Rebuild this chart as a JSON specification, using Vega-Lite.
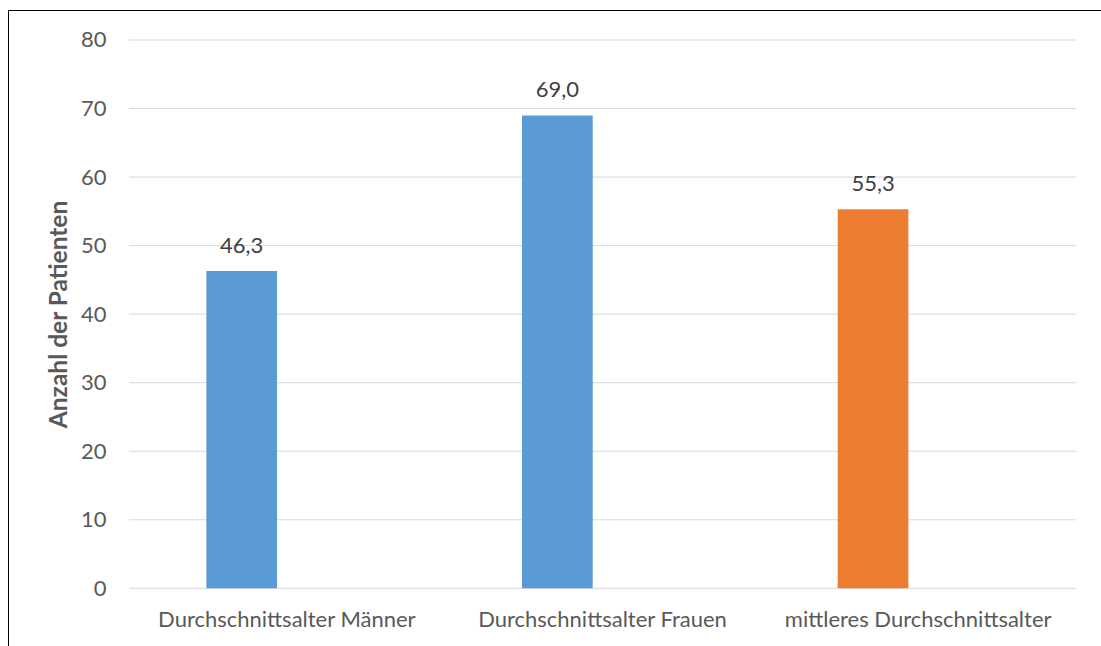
{
  "$schema": "https://vega.github.io/schema/vega-lite/v6.json",
  "width": 1093,
  "height": 636,
  "autosize": {"type": "none"},
  "padding": {"left": 8, "top": 10, "right": 0, "bottom": 0},
  "background": "#ffffff",
  "config": {
    "view": {"stroke": "transparent", "strokeWidth": 0},
    "font": "Lato",
    "locale": {
      "number": {"decimal": ",", "thousands": ".", "grouping": [3], "currency": ["", " €"]}
    },
    "axisY": {
      "domain": true,
      "domainColor": "#000000",
      "domainWidth": 1,
      "ticks": false,
      "tickSize": 0,
      "grid": false,
      "labelPadding": -98,
      "labelAlign": "right",
      "labelFontSize": 22,
      "labelColor": "#595959",
      "titleFontSize": 24.5,
      "titleFontWeight": "bold",
      "titleColor": "#595959",
      "titleX": 51,
      "titleY": 304,
      "titleAngle": 270,
      "titleAlign": "center",
      "titleBaseline": "middle"
    },
    "axisX": {
      "domain": true,
      "domainColor": "#000000",
      "domainWidth": 1,
      "ticks": false,
      "tickSize": 0,
      "grid": false,
      "labelPadding": -616,
      "labelBaseline": "alphabetic",
      "labelAngle": 0,
      "labelLimit": 0,
      "labelFontSize": 22,
      "labelColor": "#595959"
    }
  },
  "datasets": {
    "alter": [
      {"kategorie": "Durchschnittsalter Männer", "wert": 46.3, "gruppe": "Geschlecht", "serie": "A"},
      {"kategorie": "Durchschnittsalter Frauen", "wert": 69.0, "gruppe": "Geschlecht", "serie": "A"},
      {"kategorie": "mittleres Durchschnittsalter", "wert": 55.3, "gruppe": "Gesamt", "serie": "A"}
    ],
    "raster": [
      {"v": 0}, {"v": 10}, {"v": 20}, {"v": 30}, {"v": 40},
      {"v": 50}, {"v": 60}, {"v": 70}, {"v": 80}
    ]
  },
  "layer": [
    {
      "data": {"name": "raster"},
      "mark": {"type": "rule", "color": "#D9D9D9", "strokeWidth": 1},
      "encoding": {
        "y": {
          "field": "v",
          "type": "quantitative",
          "title": "Anzahl der Patienten",
          "scale": {"domain": [-8.418, 84.377], "nice": false, "zero": false},
          "axis": {"orient": "left", "values": [0, 10, 20, 30, 40, 50, 60, 70, 80]}
        },
        "x": {
          "datum": "Durchschnittsalter Männer",
          "type": "nominal",
          "bandPosition": 0,
          "title": null,
          "scale": {
            "domain": ["Durchschnittsalter Männer", "Durchschnittsalter Frauen", "mittleres Durchschnittsalter"],
            "paddingInner": 0,
            "paddingOuter": 0.23125,
            "align": 0.8288
          },
          "axis": {"orient": "top"}
        },
        "x2": {"datum": "mittleres Durchschnittsalter", "bandPosition": 1}
      }
    },
    {
      "data": {"name": "alter"},
      "mark": {"type": "bar"},
      "encoding": {
        "x": {"field": "kategorie", "type": "nominal", "title": null, "axis": {"orient": "top"}},
        "xOffset": {
          "field": "serie",
          "type": "nominal",
          "scale": {"domain": ["A", "B"], "paddingInner": 0.5, "paddingOuter": 0.366, "align": 0.747}
        },
        "y": {
          "field": "wert",
          "type": "quantitative",
          "title": "Anzahl der Patienten",
          "axis": {"orient": "left", "values": [0, 10, 20, 30, 40, 50, 60, 70, 80]}
        },
        "y2": {"datum": 0},
        "color": {
          "field": "gruppe",
          "type": "nominal",
          "scale": {"domain": ["Geschlecht", "Gesamt"], "range": ["#5B9BD5", "#ED7D31"]},
          "legend": null
        }
      }
    },
    {
      "data": {"name": "alter"},
      "mark": {"type": "text", "fontSize": 22, "color": "#404040", "baseline": "middle", "align": "center", "dy": -25},
      "encoding": {
        "x": {"field": "kategorie", "type": "nominal", "title": null, "axis": {"orient": "top"}},
        "xOffset": {"field": "serie", "type": "nominal"},
        "y": {
          "field": "wert",
          "type": "quantitative",
          "title": "Anzahl der Patienten",
          "axis": {"orient": "left", "values": [0, 10, 20, 30, 40, 50, 60, 70, 80]}
        },
        "text": {"field": "wert", "type": "quantitative", "format": ".1f"}
      }
    }
  ]
}
